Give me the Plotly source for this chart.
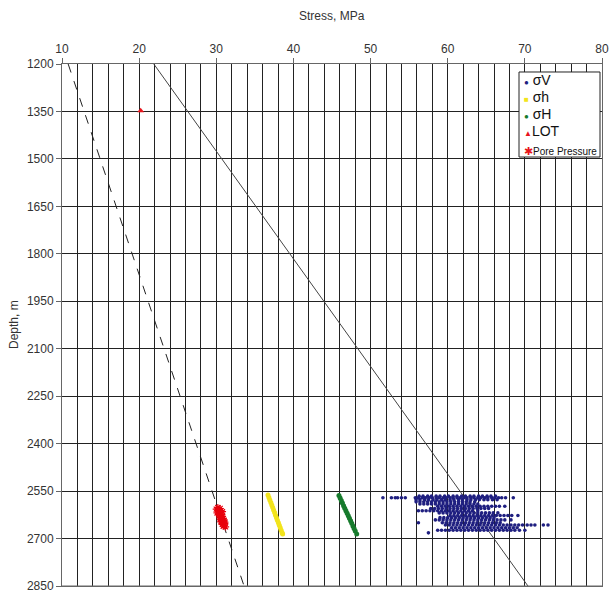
import plotly.graph_objects as go

# ---- Data -----------------------------------------------------------------
# Vertical stress (sigma V) samples, grouped by logging depth (m) -> stress (MPa)
sv_depths = [2566, 2571, 2577, 2584, 2591, 2598, 2605, 2612, 2619, 2627,
             2634, 2641, 2650, 2657, 2666, 2674, 2682]
sv_rows = [
    [56.3, 56.8, 57.4, 57.9, 58.5, 59.0, 59.6, 60.1, 60.7, 61.2, 61.8, 62.3,
     62.9, 63.4, 64.0, 64.5, 65.1, 65.6, 66.2],
    [51.6, 52.7, 53.2, 53.5, 54.0, 54.5, 55.8, 56.2, 56.7, 57.1, 57.6, 58.0,
     58.5, 58.9, 59.4, 59.8, 60.3, 60.7, 61.2, 61.6, 62.1, 62.5, 63.0, 63.4,
     63.9, 64.3, 64.8, 65.2, 65.7, 66.1, 66.6, 67.0, 67.5, 68.5],
    [55.9, 56.4, 57.0, 57.5, 58.1, 58.6, 59.2, 59.7, 60.3, 60.8, 61.4, 61.9,
     62.5, 63.0, 63.6, 64.1, 64.7, 65.2, 65.8, 66.4],
    [55.9, 56.4, 56.9, 57.4, 57.9, 58.4, 58.9, 59.4, 59.9, 60.4, 60.9, 61.4,
     61.9, 62.4, 62.9, 63.5],
    [56.4, 56.9, 57.4, 57.9, 58.4, 58.9, 59.4, 59.9, 60.4, 60.9, 61.4, 61.9,
     62.4, 62.9, 63.4, 63.9],
    [58.7, 59.2, 59.7, 60.2, 60.7, 61.2, 61.7, 62.2, 62.7, 63.2, 63.7, 64.2,
     64.7, 65.2, 65.7, 66.2, 66.7, 67.4],
    [57.8, 58.3, 58.8, 59.3, 59.8, 60.3, 60.8, 61.3, 61.8, 62.3, 62.8, 63.3,
     63.8, 64.3, 64.8, 65.3],
    [56.2, 56.7, 57.2, 57.7, 58.2, 58.7, 59.2, 59.7, 60.2, 60.7, 61.2, 61.7,
     62.2, 62.7, 63.2, 63.9],
    [58.9, 59.4, 59.9, 60.4, 60.9, 61.4, 61.9, 62.4, 62.9, 63.4, 63.9, 64.4,
     64.9, 65.4, 65.9, 66.5],
    [60.3, 60.8, 61.3, 61.8, 62.3, 62.8, 63.3, 63.8, 64.3, 64.8, 65.3, 65.8,
     66.3, 66.8, 67.3, 67.8, 68.3, 69.1],
    [59.0, 59.5, 60.0, 60.5, 61.0, 61.5, 62.0, 62.5, 63.0, 63.5, 64.0, 64.5,
     65.0, 65.5, 66.0],
    [58.4, 58.9, 59.4, 59.9, 60.4, 60.9, 61.4, 61.9, 62.4, 62.9, 63.4, 63.9,
     64.4, 64.9, 65.4, 65.9, 66.4, 66.9, 67.4, 68.2],
    [56.2, 59.3, 59.8, 60.3, 60.8, 61.3, 61.8, 62.3, 62.8, 63.3, 63.8, 64.3,
     64.8, 65.3, 65.8, 66.3, 66.8],
    [59.7, 60.2, 60.7, 61.2, 61.7, 62.2, 62.7, 63.2, 63.7, 64.2, 64.7, 65.2,
     65.7, 66.2, 66.7, 67.2, 67.7, 68.2, 68.7, 69.2, 69.7, 70.3, 70.8, 71.3,
     72.4, 73.0],
    [60.5, 61.0, 61.5, 62.0, 62.5, 63.0, 63.5, 64.0, 64.5, 65.0, 65.5, 66.0,
     66.5, 67.0, 67.5, 68.0, 68.5, 69.0],
    [58.7, 59.2, 59.7, 60.2, 60.7, 61.2, 61.7, 62.2, 62.7, 63.2, 63.7, 64.2,
     64.7, 65.2, 65.7, 66.2, 66.7, 67.2, 67.7, 68.2, 68.7, 69.3, 70.0],
    [57.5],
]

# Minimum horizontal stress (sigma h)
sh_depth = [2562, 2570, 2578, 2586, 2594, 2602, 2610, 2618, 2626, 2634,
            2642, 2650, 2658, 2666, 2674, 2682, 2686]
sh_stress = [36.70, 36.82, 36.94, 37.07, 37.19, 37.31, 37.43, 37.56, 37.68,
             37.80, 37.92, 38.05, 38.17, 38.29, 38.41, 38.53, 38.60]

# Maximum horizontal stress (sigma H)
sH_depth = [2564, 2572, 2580, 2588, 2596, 2604, 2612, 2620, 2628, 2636,
            2644, 2652, 2660, 2668, 2676, 2686]
sH_stress = [45.90, 46.05, 46.20, 46.35, 46.50, 46.65, 46.80, 46.96, 47.11,
             47.26, 47.41, 47.56, 47.71, 47.86, 48.01, 48.20]

# Leak-off test
lot_depth = [1348]
lot_stress = [20.2]

# Pore pressure measurements
pp_depth = [2602, 2605, 2607, 2610, 2612, 2614, 2617, 2619, 2621, 2624,
            2626, 2628, 2630, 2633, 2635, 2637, 2640, 2642, 2645, 2647,
            2650, 2652, 2655, 2658, 2661, 2663, 2615, 2622, 2638, 2648]
pp_stress = [30.2, 30.5, 30.0, 30.4, 30.6, 30.3, 30.5, 30.1, 30.4, 30.7,
             30.4, 30.6, 30.8, 30.5, 30.7, 30.9, 30.6, 31.0, 30.7, 30.6,
             30.9, 31.1, 30.8, 31.0, 30.9, 31.2, 30.8, 30.3, 30.5, 31.1]

# Gradient lines (depth m, stress MPa)
hydro_depth = [1200, 2850]
hydro_stress = [10.8, 33.6]
ob_depth = [1200, 2850]
ob_stress = [21.9, 70.4]

# Axis ticks
stress_ticks = [10, 20, 30, 40, 50, 60, 70, 80]
depth_ticks = [1200, 1350, 1500, 1650, 1800, 1950, 2100, 2250, 2400, 2550,
               2700, 2850]

# ---- Figure ---------------------------------------------------------------
sv_x, sv_y = [], []
for d, row in zip(sv_depths, sv_rows):
    sv_x.extend(row)
    sv_y.extend([d] * len(row))

NAVY = "#1f1f80"
YELLOW = "#f2e41c"
GREEN = "#167a2c"
RED = "#e8141c"

fig = go.Figure()

fig.add_trace(go.Scatter(x=hydro_stress, y=hydro_depth, mode="lines",
                         line=dict(color="#222", width=1, dash="dash"),
                         showlegend=False))
fig.add_trace(go.Scatter(x=ob_stress, y=ob_depth, mode="lines",
                         line=dict(color="#444", width=1),
                         showlegend=False))

fig.add_trace(go.Scatter(x=sv_x, y=sv_y, mode="markers", name="σV",
                         marker=dict(color=NAVY, size=3.6), showlegend=False))
fig.add_trace(go.Scatter(x=sh_stress, y=sh_depth, mode="markers", name="σh",
                         marker=dict(color=YELLOW, size=5), showlegend=False))
fig.add_trace(go.Scatter(x=sH_stress, y=sH_depth, mode="markers", name="σH",
                         marker=dict(color=GREEN, size=5), showlegend=False))
fig.add_trace(go.Scatter(x=lot_stress, y=lot_depth, mode="markers", name="LOT",
                         marker=dict(color=RED, size=6, symbol="triangle-up"),
                         showlegend=False))
fig.add_trace(go.Scatter(x=pp_stress, y=pp_depth, mode="markers",
                         name="Pore Pressure",
                         marker=dict(symbol="asterisk-open", size=6,
                                     color="#e8000c",
                                     line=dict(color="#e8000c", width=1.2)),
                         showlegend=False))

# Bottom frame line of the plotting area
fig.add_shape(type="line", xref="paper", yref="paper", x0=0, x1=1, y0=0, y1=0,
              line=dict(color="#666", width=1), layer="above")

# Legend box drawn in paper space
fig.add_shape(type="rect", xref="paper", yref="paper",
              x0=0.8463, x1=0.9963, y0=0.8218, y1=0.9847,
              fillcolor="white", line=dict(color="#222", width=1), layer="above")
legend_rows = [
    (f'<span style="color:{NAVY};font-size:8px">●</span> σV', 0.9693, 14),
    (f'<span style="color:{YELLOW};font-size:8px">■</span> σh', 0.9368, 14),
    (f'<span style="color:{GREEN};font-size:8px">●</span> σH', 0.9042, 14),
    (f'<span style="color:{RED};font-size:8px">▲</span>LOT', 0.8716, 14),
    (f'<span style="color:{RED};font-size:11px">✱</span>Pore Pressure', 0.8333, 10),
]
for txt, yy, fs in legend_rows:
    fig.add_annotation(x=0.8519, y=yy, xref="paper", yref="paper",
                       xanchor="left", yanchor="middle", showarrow=False,
                       text=txt, font=dict(size=fs, color="#111"))

fig.add_annotation(x=0.5, y=1.0, xref="paper", yref="paper", yshift=48,
                   xanchor="center", yanchor="middle", showarrow=False,
                   text="Stress, MPa", font=dict(size=12, color="#333"))
fig.add_annotation(x=0, y=0.5, xref="paper", yref="paper", xshift=-48,
                   xanchor="center", yanchor="middle", showarrow=False,
                   textangle=-90, text="Depth, m",
                   font=dict(size=12, color="#333"))

fig.update_xaxes(side="top", range=[10, 80], tickvals=stress_ticks,
                 ticks="outside", ticklen=5, tickcolor="#666",
                 showgrid=True, gridcolor="#222", gridwidth=1,
                 minor=dict(dtick=2, showgrid=True, gridcolor="#222",
                            gridwidth=1),
                 showline=True, linecolor="#666", linewidth=1, mirror=True,
                 zeroline=False, ticklabeloverflow="allow", automargin=False,
                 tickfont=dict(size=12, color="#333"))
fig.update_yaxes(range=[2850, 1200], tickvals=depth_ticks,
                 ticks="outside", ticklen=5, tickcolor="#666",
                 showgrid=True, gridcolor="#222", gridwidth=1,
                 showline=True, linecolor="#666", linewidth=1, mirror=True,
                 zeroline=False, ticklabeloverflow="allow", automargin=False,
                 tickfont=dict(size=12, color="#333"))

fig.update_layout(width=609, height=592,
                  margin=dict(l=62, r=7, t=64, b=6),
                  paper_bgcolor="white", plot_bgcolor="white",
                  font=dict(family="Liberation Sans, Arial, sans-serif"),
                  showlegend=False)

fig.write_html("out.html")
